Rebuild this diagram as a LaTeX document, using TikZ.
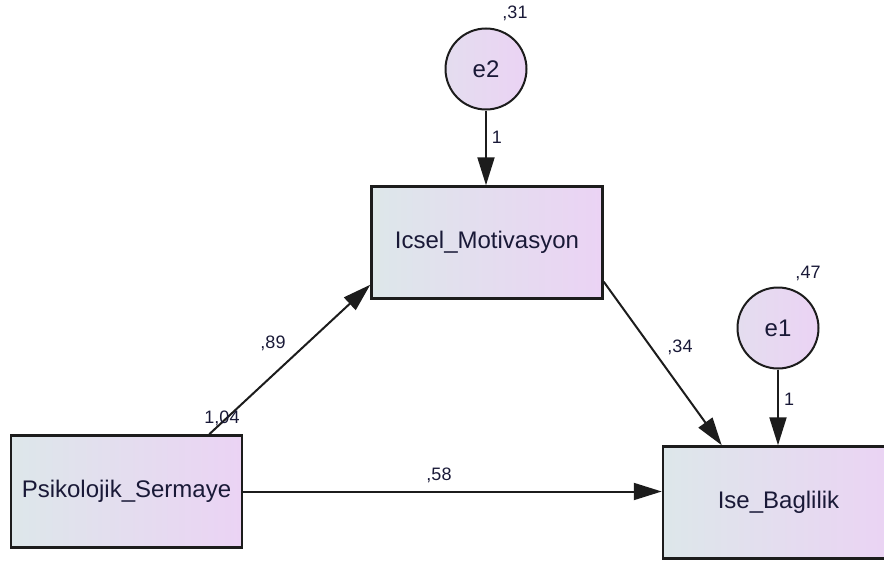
\documentclass[tikz,border=0pt]{standalone}
\usepackage{fontspec}
\setmainfont{Liberation Sans}
\usetikzlibrary{arrows.meta, calc}
\definecolor{AmosLeft}{RGB}{221,231,234}
\definecolor{AmosRight}{RGB}{235,211,244}
\definecolor{AmosEdge}{RGB}{28,28,28}
\definecolor{AmosText}{RGB}{25,25,55}

\begin{document}
\begin{tikzpicture}[x=1pt, y=-1pt,
    obs/.style={rectangle, draw=AmosEdge, line width=2.5pt,
                left color=AmosLeft, right color=AmosRight,
                minimum width=231pt, minimum height=112pt, inner sep=0pt,
                font=\fontsize{24}{28}\selectfont, text=AmosText},
    err/.style={circle, draw=AmosEdge, line width=2pt,
                left color=AmosLeft!50!AmosRight, right color=AmosRight,
                minimum size=81pt, inner sep=0pt,
                font=\fontsize{24}{28}\selectfont, text=AmosText},
    est/.style={font=\fontsize{18}{20}\selectfont, text=AmosText, inner sep=0pt},
    arr/.style={-{Triangle[length=28pt, width=17pt]}, draw=AmosEdge, line width=2pt}
  ]
  \useasboundingbox (0,0) rectangle (884,562);

  % variables
  \node[obs] (psik)  at (126.5,491.5) {Psikolojik\_Sermaye};
  \node[obs] (icsel) at (487,242.5)   {Icsel\_Motivasyon};
  \node[obs] (ise)   at (778.5,502.5) {Ise\_Baglilik};

  % error terms
  \node[err] (e2) at (486,69)  {e2};
  \node[err] (e1) at (778,328) {e1};

  % paths
  \draw[arr] (e2) -- (e2 |- icsel.north);
  \draw[arr] (e1) -- (e1 |- ise.north);
  \draw[arr] ([xshift=-34pt]psik.north east) -- ([yshift=15pt]icsel.south west);
  \draw[arr] ([yshift=18pt]icsel.south east) -- ([xshift=60pt]ise.north west);
  \draw[arr] (psik.east) -- (psik.east -| ise.west);

  % estimates
  \node[est] (v31)  at (515,13)  {,31};
  \node[est] (v47)  at (808,273) {,47};
  \node[est] (w2)   at (497,137) {1};
  \node[est] (w1)   at (789,399) {1};
  \node[est] (b89)  at (273,343) {,89};
  \node[est] (b34)  at (680,347) {,34};
  \node[est] (b58)  at (439,475) {,58};
  \node[est] (v104) at (222,418) {1,04};
\end{tikzpicture}
\end{document}
